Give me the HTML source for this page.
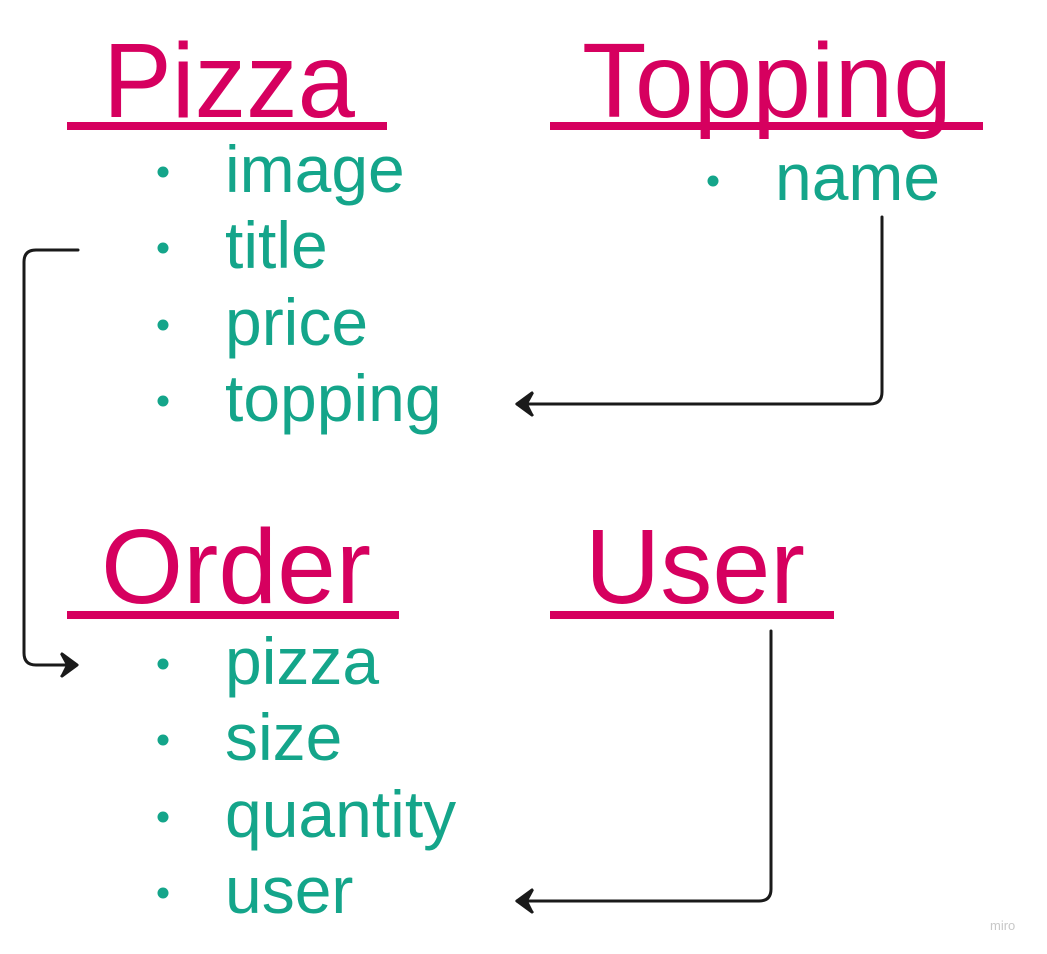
<!DOCTYPE html>
<html><head><meta charset="utf-8"><style>
html,body{margin:0;padding:0;background:#fff;}
svg{display:block;}
.t{font-family:"Liberation Sans",Arial,sans-serif;font-size:106px;fill:#d6005f;}
.i{font-family:"Liberation Sans",Arial,sans-serif;font-size:66px;fill:#14a58a;}
.b{fill:#14a58a;}
</style></head><body>
<svg width="1047" height="954" viewBox="0 0 1047 954" xmlns="http://www.w3.org/2000/svg">
<text class="t" x="103" y="117" textLength="252" lengthAdjust="spacingAndGlyphs">Pizza</text>
<rect x="67" y="122" width="320" height="8" fill="#d6005f"/>
<text class="t" x="582" y="117" textLength="370" lengthAdjust="spacingAndGlyphs">Topping</text>
<rect x="550" y="122" width="433" height="8" fill="#d6005f"/>
<text class="t" x="101" y="603" textLength="270" lengthAdjust="spacingAndGlyphs">Order</text>
<rect x="67" y="611" width="332" height="8" fill="#d6005f"/>
<text class="t" x="585" y="603" textLength="220" lengthAdjust="spacingAndGlyphs">User</text>
<rect x="550" y="611" width="284" height="8" fill="#d6005f"/>

<g>
<circle class="b" cx="163" cy="172" r="5.5"/><text class="i" x="225" y="192">image</text>
<circle class="b" cx="163" cy="248" r="5.5"/><text class="i" x="225" y="268">title</text>
<circle class="b" cx="163" cy="325" r="5.5"/><text class="i" x="225" y="345">price</text>
<circle class="b" cx="163" cy="401" r="5.5"/><text class="i" x="225" y="421">topping</text>
<circle class="b" cx="713" cy="181" r="5.5"/><text class="i" x="775" y="200">name</text>
<circle class="b" cx="163" cy="664" r="5.5"/><text class="i" x="225" y="684">pizza</text>
<circle class="b" cx="163" cy="740" r="5.5"/><text class="i" x="225" y="760">size</text>
<circle class="b" cx="163" cy="817" r="5.5"/><text class="i" x="225" y="837">quantity</text>
<circle class="b" cx="163" cy="893" r="5.5"/><text class="i" x="225" y="913">user</text>
</g>

<g fill="none" stroke="#1a1a1a" stroke-width="3" stroke-linejoin="round" stroke-linecap="round">
<path d="M78 250 H36 Q24 250 24 262 V653 Q24 665 36 665 H76"/>
<path d="M62 654 L77 665 L62 676"/>
<path d="M882 217 V392 Q882 404 870 404 H517"/>
<path d="M532 393 L517 404 L532 415"/>
<path d="M771 631 V889 Q771 901 759 901 H517"/>
<path d="M532 890 L517 901 L532 912"/>
</g>
<g fill="#1a1a1a">
<path d="M60 654 L79 665 L60 677 L66 665 Z"/>
<path d="M534 393 L515 404 L534 416 L528 404 Z"/>
<path d="M534 890 L515 901 L534 913 L528 901 Z"/>
</g>
<text x="990" y="930" font-family="Liberation Sans,sans-serif" font-size="13" fill="#c8c8c8">miro</text>
</svg>
</body></html>
